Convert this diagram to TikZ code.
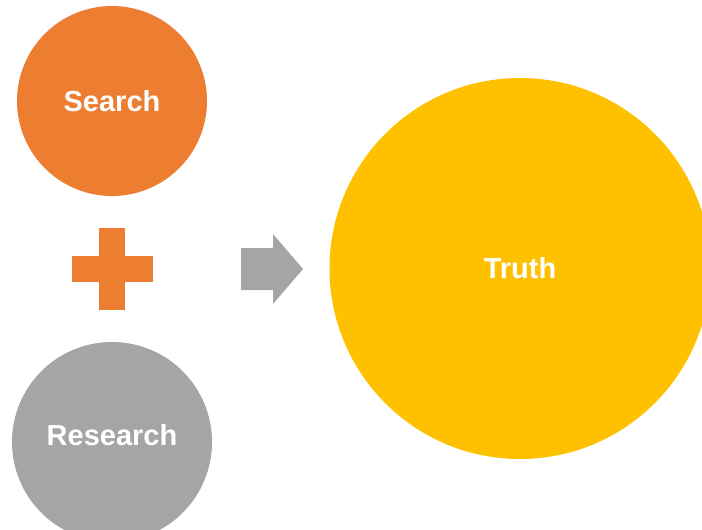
\documentclass[tikz,border=0pt]{standalone}
\usepackage{fontspec}
\setmainfont{Liberation Sans}
\definecolor{orng}{HTML}{ED7D31}
\definecolor{gry}{HTML}{A5A5A5}
\definecolor{yel}{HTML}{FFC000}
\begin{document}
\begin{tikzpicture}[x=1pt,y=-1pt,
  blob/.style={circle,inner sep=0pt,text=white,font=\fontsize{29}{34}\selectfont\bfseries}]
\useasboundingbox (0,0) rectangle (702,530);
\clip (0,0) rectangle (702,530);
\node[blob,fill=orng,minimum size=190pt] (search) at (112,101) {Search};
\node[blob,fill=gry,minimum size=200pt] (research) at (112,442) {};
\node[text=white,font=\fontsize{29}{34}\selectfont\bfseries] (rlabel) at (112,435) {Research};
\node[blob,fill=yel,minimum size=381pt] (truth) at (520,268.5) {Truth};
\fill[orng] (72,256) rectangle (153,282);
\fill[orng] (99,228) rectangle (125,310);
\coordinate (plus) at (112,269);
\fill[gry] (241,248) -- (273,248) -- (273,234) -- (303,269) -- (273,304) -- (273,290) -- (241,290) -- cycle;
\end{tikzpicture}
\end{document}
